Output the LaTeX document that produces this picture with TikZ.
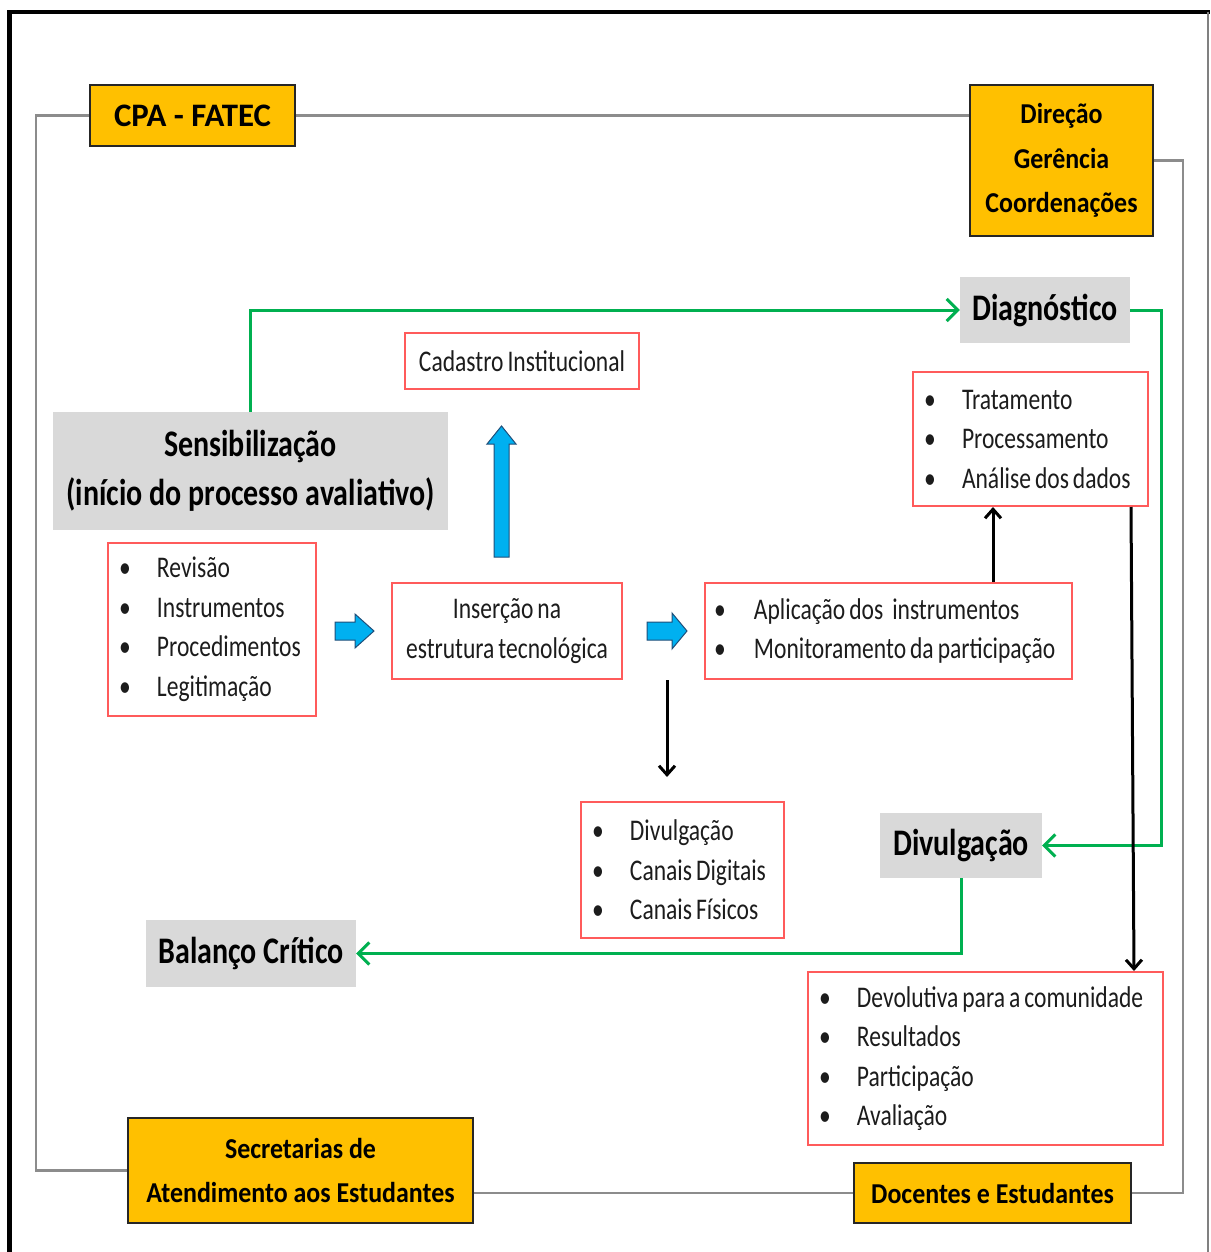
\documentclass[tikz,border=0pt]{standalone}
\usepackage{fontspec}
\setmainfont{Carlito}[FakeStretch=0.8]
\newfontfamily\rgfont{Carlito}[FakeStretch=0.785]
\newfontfamily\ylfont{Carlito}[FakeStretch=0.9]
\newfontfamily\cpafont{Carlito}
\usetikzlibrary{arrows.meta}
\definecolor{yl}{HTML}{FFC000}
\definecolor{gbox}{HTML}{D9D9D9}
\definecolor{rbord}{HTML}{FF5B5B}
\definecolor{grn}{HTML}{00B050}
\definecolor{blu}{HTML}{00B0F0}
\definecolor{bluedge}{HTML}{1F4E79}
\definecolor{connc}{HTML}{8C8C8C}
\definecolor{txt}{HTML}{1C1C1C}
\newcommand\bu[1][38pt]{\spaceskip 4pt plus 1pt minus 1pt\relax\makebox[#1][l]{•}}
\newcommand\rgsetup{\rgfont\fontsize{30}{39.5}\selectfont\spaceskip 4pt plus 1pt minus 1pt\relax}
\begin{document}
\begin{tikzpicture}[x=1pt,y=-1pt,
  ybox/.style={draw=black!85,line width=2pt,fill=yl,inner sep=0pt,align=center,
    font=\ylfont\bfseries\fontsize{28.8}{44.5}\selectfont},
  gbx/.style={fill=gbox,inner sep=0pt,align=center,
    font=\bfseries\fontsize{37.5}{49}\selectfont},
  rbox/.style={draw=rbord,line width=2pt,fill=white,inner sep=0pt,align=center,
    text=txt,font=\rgsetup},
  lbox/.style={rbox,align=left,inner xsep=#1},
  connline/.style={draw=connc,line width=2.5pt},
  garrow/.style={draw=grn,line width=3pt,-{Straight Barb[length=11pt,width=22pt]}},
  karrow/.style={draw=black,line width=3pt,-{Straight Barb[length=9pt,width=16pt]}},
  barrow/.style={fill=blu,draw=bluedge,line width=1pt,line join=miter}
]
\useasboundingbox (0,0) rectangle (1210,1252);
% outer frame
\draw[line width=4.5pt] (9.5,1252) -- (9.5,12) -- (1210,12);
\draw[draw=gray,line width=1.5pt] (1208,12) -- (1208,1252);

% yellow boxes
\node[ybox,minimum width=205pt,minimum height=61pt,
  font=\cpafont\bfseries\fontsize{32.8}{40}\selectfont] (cpa) at (192.5,115.5) {CPA - FATEC};
\node[ybox,minimum width=183pt,minimum height=151pt] (dir) at (1061.5,160.5) {Direção\\Gerência\\Coordenações};
\node[ybox,minimum width=345pt,minimum height=105pt] (sec) at (300.5,1170.5) {Secretarias de\\Atendimento aos Estudantes};
\node[ybox,minimum width=277pt,minimum height=60pt] (doc) at (992.5,1193) {Docentes e Estudantes};

% gray connectors
\draw[connline] (cpa.west) -- ++(-53,0) |- (sec.west);
\draw[connline] (cpa.east) -- (cpa.east -| dir.west);
\draw[connline] (dir.east) -- ++(29,0) |- (doc.east);
\draw[connline] (doc.west) -- (doc.west -| sec.east);

% gray label boxes
\node[gbx,minimum width=170pt,minimum height=66pt] (diag) at (1045,310) {Diagnóstico};
\node[gbx,minimum width=395pt,minimum height=118pt] (sens) at (250.5,471) {Sensibilização\\(início do processo avaliativo)};
\node[gbx,minimum width=162pt,minimum height=65pt] (divg) at (961,845.5) {Divulgação};
\node[gbx,minimum width=210pt,minimum height=67pt] (bal) at (251,953.5) {Balanço Crítico};

% red boxes
\node[rbox,minimum width=234pt,minimum height=56pt] (cad) at (522,361) {Cadastro Institucional};
\node[rbox,minimum width=230pt,minimum height=96pt] (ins) at (507,631) {Inserção na\\estrutura tecnológica};
\node[lbox=11pt,text width=213pt,minimum height=134pt] (trat) at (1030.5,439)
  {\mbox{\bu Tratamento}\\\mbox{\bu Processamento}\\\mbox{\bu Análise dos dados}};
\node[lbox=11pt,text width=186pt,minimum height=173pt] (rev) at (212,629.5)
  {\mbox{\bu Revisão}\\\mbox{\bu Instrumentos}\\\mbox{\bu Procedimentos}\\\mbox{\bu Legitimação}};
\node[lbox=9pt,text width=349pt,minimum height=96pt] (apl) at (888.5,631)
  {\mbox{\bu[40pt]Aplicação dos\hspace{9pt}instrumentos}\\\mbox{\bu[40pt]Monitoramento da participação}};
\node[lbox=11pt,text width=181pt,minimum height=136pt] (dlist) at (682.5,870)
  {\mbox{\bu Divulgação}\\\mbox{\bu Canais Digitais}\\\mbox{\bu Canais Físicos}};
\node[lbox=11pt,text width=333pt,minimum height=173pt] (dev) at (985.5,1058.5)
  {\mbox{\bu Devolutiva para a comunidade}\\\mbox{\bu Resultados}\\\mbox{\bu Participação}\\\mbox{\bu Avaliação}};

% green arrows
\draw[garrow] (sens.north) |- (diag.west);
\draw[garrow] (diag.east) -- ++(31,0) |- (divg.east);
\draw[garrow] (divg.south) |- (bal.east);

% black arrows
\coordinate (a1) at ([xshift=104.5pt]apl.north);
\coordinate (b1) at ([xshift=100.5pt]trat.south);
\coordinate (c1) at ([xshift=44pt]ins.south east);
\coordinate (b2) at ([xshift=103.5pt]trat.south);
\draw[karrow] (a1) -- (a1 |- trat.south);
\draw[karrow] (b1) -- (b2 |- dev.north);
\draw[karrow,shorten >=24pt] (c1) -- (c1 |- dlist.north);

% blue block arrows
\draw[barrow] (335,622) -- (355,622) -- (355,614) -- (374,631) -- (355,648) -- (355,640) -- (335,640) -- cycle;
\draw[barrow] (647,622) -- (672,622) -- (672,613) -- (687,631) -- (672,649) -- (672,640) -- (647,640) -- cycle;
\draw[barrow] (494,557) -- (494,444) -- (487,444) -- (501.5,426) -- (516,444) -- (509,444) -- (509,557) -- cycle;
\end{tikzpicture}
\end{document}
